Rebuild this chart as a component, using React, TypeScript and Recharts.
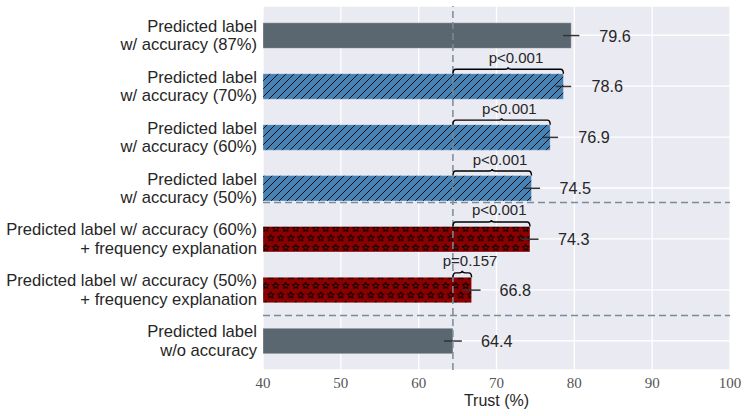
import {
  Bar,
  BarChart,
  CartesianGrid,
  Cell,
  ErrorBar,
  LabelList,
  ReferenceLine,
  XAxis,
  YAxis,
} from "recharts";

const CATEGORIES = [
  "Predicted label\nw/ accuracy (87%)",
  "Predicted label\nw/ accuracy (70%)",
  "Predicted label\nw/ accuracy (60%)",
  "Predicted label\nw/ accuracy (50%)",
  "Predicted label w/ accuracy (60%)\n+ frequency explanation",
  "Predicted label w/ accuracy (50%)\n+ frequency explanation",
  "Predicted label\nw/o accuracy",
];
const TRUST = [79.6, 78.6, 76.9, 74.5, 74.3, 66.8, 64.4];
const ERRORS = [1.05, 1.0, 1.0, 1.1, 1.1, 1.15, 1.15];
const P_LABELS = ["", "p<0.001", "p<0.001", "p<0.001", "p<0.001", "p=0.157", ""];
const KINDS = ["grey", "hatch", "hatch", "hatch", "stars", "stars", "grey"];
const X_TICKS = [40, 50, 60, 70, 80, 90, 100];
const X_MIN = 40;
const X_MAX = 100;
const BASELINE = 64.4;
// separators, in category-index units (0 = first bar centre)
const SEPARATORS = [3.28, 5.5];

const data = CATEGORIES.map((name, i) => ({
  name,
  trust: TRUST[i],
  err: ERRORS[i],
  kind: KINDS[i],
}));

const FILL: Record<string, string> = {
  grey: "#5a6770",
  hatch: "url(#hatch)",
  stars: "url(#stars)",
};

const SANS = "'Liberation Sans', Arial, Helvetica, sans-serif";
const SERIF = "'Liberation Serif', 'DejaVu Serif', serif";
const DASH = "#7a8b99";

function starPath(cx: number, cy: number, R: number, r: number) {
  const pts: string[] = [];
  for (let k = 0; k < 10; k++) {
    const a = ((-90 + k * 36) * Math.PI) / 180;
    const rad = k % 2 === 0 ? R : r;
    pts.push(`${(cx + rad * Math.cos(a)).toFixed(2)},${(cy + rad * Math.sin(a)).toFixed(2)}`);
  }
  return "M" + pts.join("L") + "Z";
}

function CategoryTick(props: any) {
  const { x, y, payload } = props;
  const lines = String(payload.value).split("\n");
  const lh = 18.5;
  return (
    <text x={x} y={y} textAnchor="end" fontSize={16.6} fill="#262626" fontFamily={SANS}>
      {lines.map((l, i) => (
        <tspan key={i} x={x} dy={i === 0 ? -((lines.length - 1) * lh) / 2 + 5.8 : lh}>
          {l}
        </tspan>
      ))}
    </text>
  );
}

function BarAnnotation(props: any) {
  const vb = props.viewBox ?? props;
  const x = Number(vb.x ?? props.x);
  const y = Number(vb.y ?? props.y);
  const width = Number(vb.width ?? props.width);
  const height = Number(vb.height ?? props.height);
  const index = props.index as number;
  const value = TRUST[index];
  const unit = width / (value - X_MIN);
  const end = x + width;
  const cy = y + height / 2;
  const band = height * 2; // bars fill half of each category band
  const p = P_LABELS[index];

  let brace = null;
  if (p) {
    const x0 = x + (BASELINE - X_MIN) * unit;
    const x1 = end;
    const xm = (x0 + x1) / 2;
    const yb = y;
    const yt = y - 4.5;
    const yp = y - 6.5;
    const r = Math.min(3, (x1 - x0) / 4);
    const d = `M${x0},${yb} Q${x0},${yt} ${x0 + r},${yt} L${xm - r},${yt} Q${xm},${yt} ${xm},${yp} Q${xm},${yt} ${xm + r},${yt} L${x1 - r},${yt} Q${x1},${yt} ${x1},${yb}`;
    brace = (
      <g>
        <path d={d} fill="none" stroke="#000" strokeWidth={1.4} />
        <text
          x={xm + unit}
          y={y - 11}
          textAnchor="middle"
          fontSize={15}
          fill="#262626"
          fontFamily={SANS}
        >
          {p}
        </text>
      </g>
    );
  }

  const seps = SEPARATORS.filter((s) => Math.floor(s) === index).map((s) => {
    const sy = cy + (s - index) * band;
    return (
      <line
        key={s}
        x1={x}
        x2={x + (X_MAX - X_MIN) * unit}
        y1={sy}
        y2={sy}
        stroke={DASH}
        strokeWidth={1.5}
        strokeDasharray="7 4"
      />
    );
  });

  return (
    <g>
      {seps}
      {brace}
      <text
        x={end + 3.6 * unit}
        y={cy}
        dominantBaseline="central"
        fontSize={16.2}
        fill="#262626"
        fontFamily={SANS}
      >
        {value.toFixed(1)}
      </text>
    </g>
  );
}

export default function App() {
  return (
    <div style={{ position: "absolute", left: 0, top: 0, width: 748, height: 416, background: "#fff" }}>
      <BarChart
        width={748}
        height={416}
        data={data}
        layout="vertical"
        margin={{ top: 6, right: 18, bottom: 0, left: 0 }}
      >
        <defs>
          <pattern id="hatch" patternUnits="userSpaceOnUse" width={8} height={8}>
            <rect x={0} y={0} width={8} height={8} fill="#4682b4" />
            <path d="M-2,2 L2,-2 M0,8 L8,0 M6,10 L10,6" stroke="#000" strokeWidth={0.9} />
          </pattern>
          <pattern id="stars" patternUnits="userSpaceOnUse" x={0.7} y={14.95} width={10} height={19}>
            <rect x={0} y={0} width={10} height={19} fill="#8b0000" />
            <g fill="none" stroke="#000" strokeWidth={1}>
              <path d={starPath(5, 4.75, 3.6, 1.5)} />
              <path d={starPath(0, 14.25, 3.6, 1.5)} />
              <path d={starPath(10, 14.25, 3.6, 1.5)} />
            </g>
          </pattern>
        </defs>
        <CartesianGrid fill="#eaeaf2" fillOpacity={1} stroke="#ffffff" strokeWidth={1.3} />
        <XAxis
          type="number"
          domain={[X_MIN, X_MAX]}
          ticks={X_TICKS}
          allowDataOverflow
          axisLine={false}
          tickLine={false}
          tickSize={0}
          tickMargin={7}
          height={46}
          tick={{ fill: "#555555", fontSize: 15, fontFamily: SERIF }}
          label={{
            value: "Trust (%)",
            position: "insideBottom",
            offset: 10,
            fill: "#262626",
            fontSize: 16,
            fontFamily: SANS,
          }}
        />
        <YAxis
          type="category"
          dataKey="name"
          width={263}
          axisLine={false}
          tickLine={false}
          tickSize={0}
          tickMargin={6}
          padding={{ top: 3.8, bottom: 3.8 }}
          interval={0}
          tick={<CategoryTick />}
        />
        <Bar dataKey="trust" barSize={25.5} isAnimationActive={false}>
          {data.map((d) => (
            <Cell
              key={d.name}
              fill={FILL[d.kind]}
              stroke="#ffffff"
              strokeOpacity={0.3}
              strokeWidth={1}
            />
          ))}
          <ErrorBar
            dataKey="err"
            direction="x"
            width={0}
            stroke="#333333"
            strokeWidth={1.5}
            isAnimationActive={false}
          />
          <LabelList dataKey="trust" content={<BarAnnotation />} />
        </Bar>
        <ReferenceLine
          x={BASELINE}
          stroke={DASH}
          strokeWidth={1.5}
          strokeDasharray="7 4"
        />
      </BarChart>
    </div>
  );
}
